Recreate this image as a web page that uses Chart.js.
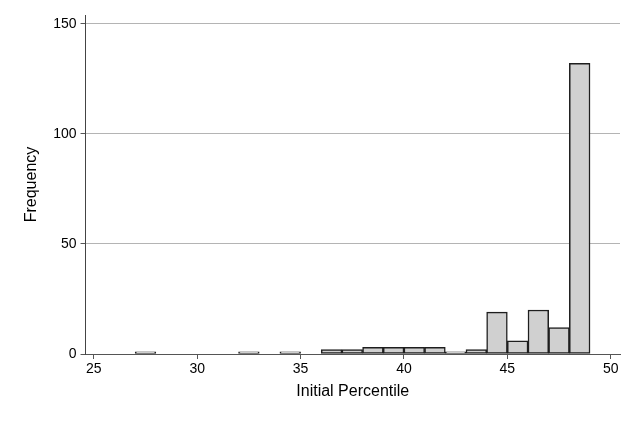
<!DOCTYPE html>
<html>
<head>
<meta charset="utf-8">
<script src="https://cdn.jsdelivr.net/npm/chart.js@4.4.1/dist/chart.umd.min.js"></script>
<style>
  html, body { margin: 0; padding: 0; background: #fff; }
  #wrap { width: 634px; height: 423px; }
</style>
</head>
<body>
<div id="wrap"><canvas id="hist"></canvas></div>
<script>
// Histogram data (bin start, width 1)
const binStarts = [27, 32, 34, 36, 37, 38, 39, 40, 41, 42, 43, 44, 45, 46, 47, 48];
const counts    = [1, 1, 1, 2, 2, 3, 3, 3, 3, 1, 2, 19, 6, 20, 12, 132];
const xTicks = [25, 30, 35, 40, 45, 50];
const yTicks = [0, 50, 100, 150];

const points = binStarts.map((b, i) => ({ x: b + 0.5, y: counts[i] }));

const font = { family: 'Liberation Sans, Arial, sans-serif', size: 14 };
const titleFont = { family: 'Liberation Sans, Arial, sans-serif', size: 16 };

new Chart(document.getElementById('hist').getContext('2d'), {
    type: 'bar',
    data: {
        datasets: [{
            data: points,
            backgroundColor: '#d0d0d0',
            borderColor: '#1e1e1e',
            borderWidth: 1.5,
            borderSkipped: false,
            barPercentage: 1,
            categoryPercentage: 1
        }]
    },
    options: {
        responsive: true,
        maintainAspectRatio: false,
        animation: false,
        layout: { padding: { left: 18, right: 14, top: 15, bottom: 18 } },
        plugins: { legend: { display: false }, tooltip: { enabled: false } },
        scales: {
            x: {
                type: 'linear',
                offset: false,
                min: 24.6,
                max: 50.45,
                afterBuildTicks: (s) => { s.ticks = xTicks.map(v => ({ value: v })); },
                grid: { offset: false, drawOnChartArea: false, drawTicks: true, tickLength: 5, tickColor: '#555' },
                border: { display: true, color: '#555', width: 1 },
                ticks: { color: '#000', font: font, padding: 2, maxRotation: 0 },
                title: { display: true, text: 'Initial Percentile', color: '#000', font: titleFont, padding: { top: 2 } }
            },
            y: {
                min: 0,
                max: 154,
                afterBuildTicks: (s) => { s.ticks = yTicks.map(v => ({ value: v })); },
                grid: {
                    color: (ctx) => ctx.tick && ctx.tick.value === 0 ? 'rgba(0,0,0,0)' : '#b4b4b4',
                    tickColor: '#555',
                    tickLength: 5
                },
                border: { display: true, color: '#444', width: 1 },
                ticks: { color: '#000', font: font, padding: 4 },
                title: { display: true, text: 'Frequency', color: '#000', font: titleFont, padding: { bottom: 8 } }
            }
        }
    }
});
</script>
</body>
</html>
